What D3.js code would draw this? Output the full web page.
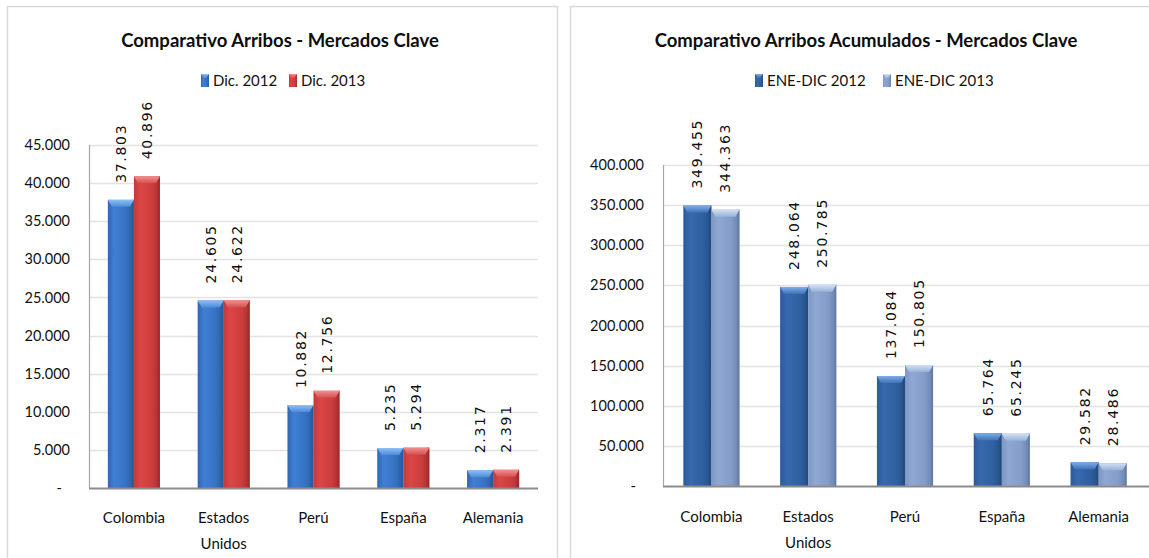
<!DOCTYPE html>
<html>
<head>
<meta charset="utf-8">
<script src="https://cdn.jsdelivr.net/npm/d3@7"></script>
<style>
  html, body { margin: 0; padding: 0; background: #ffffff; }
  svg { display: block; }
</style>
</head>
<body>
<svg id="chart" width="1149" height="558"></svg>
<script>
// ---------- DATA ----------
const categories = ["Colombia", "Estados Unidos", "Perú", "España", "Alemania"];

const leftTitle = "Comparativo Arribos - Mercados Clave";
const leftSeriesNames = ["Dic. 2012", "Dic. 2013"];
const leftDic2012 = [37803, 24605, 10882, 5235, 2317];
const leftDic2013 = [40896, 24622, 12756, 5294, 2391];
const leftTicks = [0, 5000, 10000, 15000, 20000, 25000, 30000, 35000, 40000, 45000];

const rightTitle = "Comparativo Arribos Acumulados - Mercados Clave";
const rightSeriesNames = ["ENE-DIC 2012", "ENE-DIC 2013"];
const rightEneDic2012 = [349455, 248064, 137084, 65764, 29582];
const rightEneDic2013 = [344363, 250785, 150805, 65245, 28486];
const rightTicks = [0, 50000, 100000, 150000, 200000, 250000, 300000, 350000, 400000];

// ---------- SETUP ----------
const svg = d3.select("#chart");
const defs = svg.append("defs");
const loc = d3.formatLocale({decimal: ",", thousands: ".", grouping: [3], currency: ["", ""]});
const fmt = loc.format(",d");

const FONT = "Lato, 'Open Sans', sans-serif";

function makeGrad(id, stops) {
  const g = defs.append("linearGradient").attr("id", id)
    .attr("x1", "0%").attr("x2", "100%").attr("y1", "0%").attr("y2", "0%");
  stops.forEach(s => g.append("stop").attr("offset", s[0]).attr("stop-color", s[1]));
}
function makeVGrad(id, stops) {
  const g = defs.append("linearGradient").attr("id", id)
    .attr("x1", "0%").attr("x2", "0%").attr("y1", "0%").attr("y2", "100%");
  stops.forEach(s => g.append("stop").attr("offset", s[0]).attr("stop-color", s[1]));
}

const palettes = {
  blue:  {body: [["0%", "#2f66b4"], ["25%", "#3f80d4"], ["70%", "#3672c2"], ["100%", "#2a5a9e"]],
          cap: [["0%", "#8cc0f4"], ["100%", "#4d8ad8"]], edge: "#2a5896"},
  red:   {body: [["0%", "#c23a3a"], ["25%", "#dc4545"], ["70%", "#cc3d3d"], ["100%", "#a52e2e"]],
          cap: [["0%", "#f29090"], ["100%", "#d45050"]], edge: "#9a2a2a"},
  dblue: {body: [["0%", "#2a5c9c"], ["25%", "#3669ae"], ["70%", "#2f609f"], ["100%", "#244f86"]],
          cap: [["0%", "#7faee6"], ["100%", "#3f73b8"]], edge: "#22497c"},
  lblue: {body: [["0%", "#7e98c4"], ["25%", "#8ea8d2"], ["70%", "#839dc8"], ["100%", "#6a82ad"]],
          cap: [["0%", "#d2e0f4"], ["100%", "#98b2da"]], edge: "#62799f"}
};
Object.entries(palettes).forEach(([k, p]) => {
  makeGrad("body-" + k, p.body);
  makeVGrad("cap-" + k, p.cap);
});

function drawChart(cfg) {
  const g = svg.append("g");

  // panel border
  g.append("rect")
    .attr("x", cfg.panel[0] + 0.5).attr("y", 6.5)
    .attr("width", cfg.panel[1] - cfg.panel[0]).attr("height", 600)
    .attr("fill", "#ffffff").attr("stroke", "#d9d9d9").attr("stroke-width", 1.5);

  const y = d3.scaleLinear().domain([0, cfg.max]).range([cfg.y0, cfg.y1]);
  const x = d3.scaleBand().domain(categories).range([cfg.x0, cfg.x1]).paddingInner(0.42).paddingOuter(0.21);
  const xs = d3.scaleBand().domain(cfg.seriesNames).range([0, x.bandwidth()]);

  // gridlines
  g.append("g").selectAll("line").data(cfg.ticks.filter(t => t > 0)).join("line")
    .attr("x1", cfg.x0).attr("x2", cfg.gridEnd)
    .attr("y1", d => Math.round(y(d)) + 0.5).attr("y2", d => Math.round(y(d)) + 0.5)
    .attr("stroke", "#e3e3e3").attr("stroke-width", 1.3);

  // y axis tick labels
  g.append("g").selectAll("text").data(cfg.ticks).join("text")
    .attr("x", d => d === 0 ? cfg.tickX - 8 : cfg.tickX)
    .attr("y", d => y(d))
    .attr("dy", "0.35em")
    .attr("text-anchor", "end")
    .attr("font-family", FONT).attr("font-size", 14.5).attr("fill", "#111")
    .text(d => d === 0 ? "-" : fmt(d));

  // y axis line
  g.append("line")
    .attr("x1", cfg.x0 + 0.5).attr("x2", cfg.x0 + 0.5)
    .attr("y1", y(cfg.max)).attr("y2", cfg.y0)
    .attr("stroke", "#a6a6a6").attr("stroke-width", 1.2);

  // bars
  const series = cfg.seriesNames.map((name, i) => ({name, values: cfg.values[i], pal: cfg.pals[i]}));
  series.forEach(s => {
    const sg = g.append("g");
    categories.forEach((c, j) => {
      const v = s.values[j];
      const bx = x(c) + xs(s.name);
      const bw = xs.bandwidth();
      const by = y(v);
      const bh = cfg.y0 - by;
      // body
      sg.append("rect").attr("x", bx).attr("y", by).attr("width", bw).attr("height", bh)
        .attr("fill", `url(#body-${s.pal})`);
      // edges
      sg.append("rect").attr("x", bx + bw - 2).attr("y", by).attr("width", 2).attr("height", bh)
        .attr("fill", palettes[s.pal].edge).attr("opacity", 0.6);
      // top bevel
      const capH = 7, ins = 4;
      sg.append("polygon")
        .attr("points", [[bx, by], [bx + bw, by], [bx + bw - ins, by + capH], [bx + ins, by + capH]].map(p => p.join(",")).join(" "))
        .attr("fill", `url(#cap-${s.pal})`);
      // data label
      const lx = bx + bw / 2;
      const ly = by - 17;
      sg.append("text")
        .attr("transform", `translate(${lx},${ly}) rotate(-90)`)
        .attr("dy", "0.36em")
        .attr("text-anchor", "start")
        .attr("font-family", "'DejaVu Sans', Verdana, sans-serif")
        .attr("font-size", 14).attr("letter-spacing", "1.7px").attr("fill", "#111")
        .text(fmt(v));
    });
  });

  // baseline
  g.append("line")
    .attr("x1", cfg.x0).attr("x2", cfg.gridEnd)
    .attr("y1", cfg.y0 + 0.5).attr("y2", cfg.y0 + 0.5)
    .attr("stroke", "#8c8c8c").attr("stroke-width", 1.8);

  // category labels
  const cl = g.append("g").selectAll("text").data(categories).join("text")
    .attr("x", d => x(d) + x.bandwidth() / 2)
    .attr("y", cfg.catY)
    .attr("text-anchor", "middle")
    .attr("font-family", FONT).attr("font-size", 15).attr("fill", "#111");
  cl.each(function(d) {
    const words = d === "Estados Unidos" ? ["Estados", "Unidos"] : [d];
    const t = d3.select(this);
    words.forEach((w, i) => {
      t.append("tspan").attr("x", x(d) + x.bandwidth() / 2).attr("dy", i === 0 ? "0.35em" : 26).text(w);
    });
  });

  // title
  g.append("text")
    .attr("x", cfg.titleX).attr("y", 41)
    .attr("dy", "0.35em")
    .attr("text-anchor", "middle")
    .attr("font-family", FONT).attr("font-weight", "bold").attr("font-size", 18.5).attr("fill", "#0d0d0d")
    .text(cfg.title);

  // legend
  const lg = g.append("g");
  cfg.seriesNames.forEach((n, i) => {
    const lx = cfg.legendX[i];
    lg.append("rect").attr("x", lx).attr("y", 74).attr("width", 8).attr("height", 13)
      .attr("fill", `url(#body-${cfg.pals[i]})`);
    lg.append("polygon")
      .attr("points", `${lx},74 ${lx + 8},74 ${lx + 5},78 ${lx + 3},78`)
      .attr("fill", `url(#cap-${cfg.pals[i]})`);
    lg.append("text").attr("x", lx + 12).attr("y", 81).attr("dy", "0.35em")
      .attr("font-family", FONT).attr("font-size", 15).attr("fill", "#111")
      .text(n);
  });
}

drawChart({
  panel: [7, 557],
  title: leftTitle, titleX: 280,
  seriesNames: leftSeriesNames,
  values: [leftDic2012, leftDic2013],
  pals: ["blue", "red"],
  ticks: leftTicks, max: 45000,
  x0: 89, x1: 538, gridEnd: 538,
  y0: 488, y1: 145,
  tickX: 70, catY: 518,
  legendX: [201, 289]
});

drawChart({
  panel: [570, 1160],
  title: rightTitle, titleX: 866,
  seriesNames: rightSeriesNames,
  values: [rightEneDic2012, rightEneDic2013],
  pals: ["dblue", "lblue"],
  ticks: rightTicks, max: 400000,
  x0: 663, x1: 1147, gridEnd: 1149,
  y0: 486, y1: 165,
  tickX: 644, catY: 517,
  legendX: [755, 883]
});
</script>
</body>
</html>
